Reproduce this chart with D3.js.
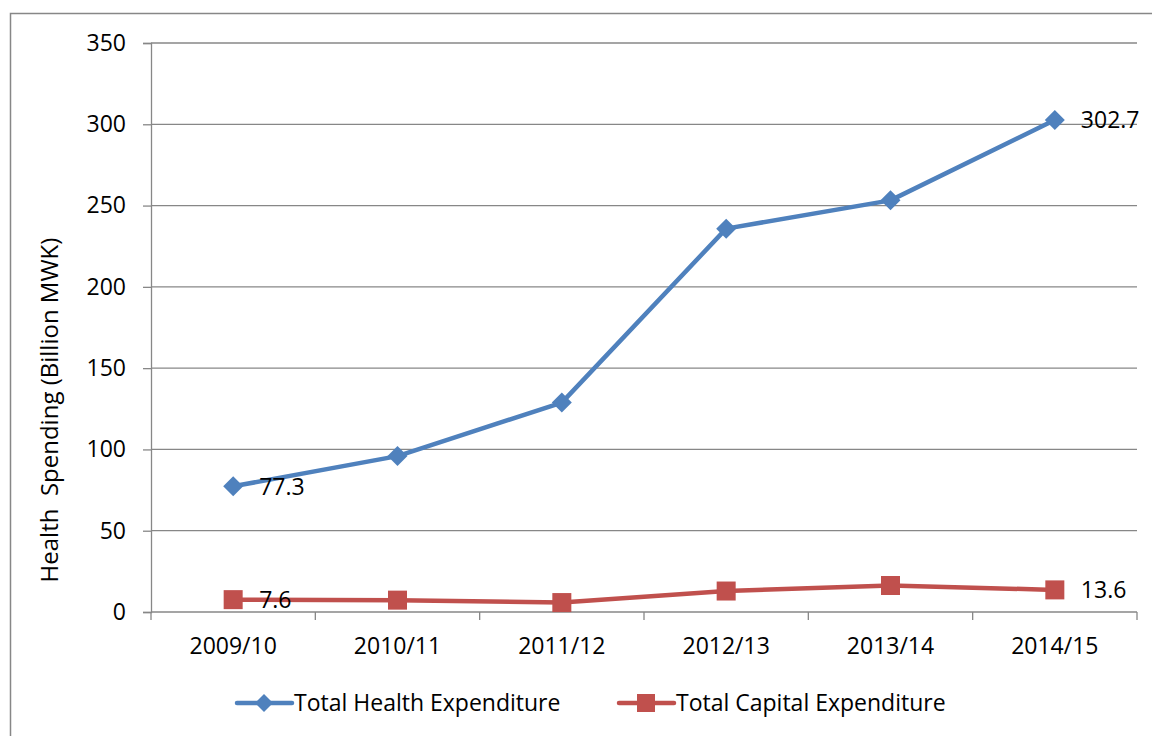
<!DOCTYPE html>
<html lang="en">
<head>
  <meta charset="UTF-8">
  <title>Health Spending</title>
  <style>
    html, body { margin: 0; padding: 0; background: #fff; }
    svg text { font-family: "Open Sans", "Noto Sans", sans-serif; fill: #000; }
  </style>
</head>
<body>
  <div id="chart"></div>
  <script src="https://d3js.org/d3.v7.min.js"></script>
  <script>
    // Data
    const years = ["2009/10", "2010/11", "2011/12", "2012/13", "2013/14", "2014/15"];
    const healthExp = [77.3, 95.9, 128.8, 235.8, 253.2, 302.7];
    const capitalExp = [7.6, 7.3, 5.8, 12.9, 16.3, 13.6];
    const yTicks = [0, 50, 100, 150, 200, 250, 300, 350];
    const seriesNames = ["Total Health Expenditure", "Total Capital Expenditure"];

    const W = 1152, H = 736;
    const margin = {top: 43, right: 15, bottom: 124, left: 151};
    const plotW = 1137 - margin.left, plotH = 612 - margin.top;

    const blue = "#4F81BD", red = "#C0504D", grid = "#878787";
    const fs = 23;

    // diamond marker, half diagonal r
    const diamond = r => `M0,${-r}L${r},0L0,${r}L${-r},0Z`;

    const svg = d3.select("#chart").append("svg")
      .attr("width", W)
      .attr("height", H);

    // outer chart border (runs off the right and bottom)
    svg.append("rect")
      .attr("x", 10.5).attr("y", 13.5)
      .attr("width", 1160).attr("height", 760)
      .attr("fill", "none")
      .attr("stroke", grid)
      .attr("stroke-width", 1.5);

    const g = svg.append("g").attr("transform", `translate(${margin.left},${margin.top})`);

    const x = d3.scaleBand().domain(years).range([0, plotW]);
    const y = d3.scaleLinear().domain([0, 350]).range([plotH, 0]);
    const cx = d => x(d) + x.bandwidth() / 2;

    // gridlines
    g.append("g")
      .selectAll("line")
      .data(yTicks.filter(t => t > 0))
      .enter().append("line")
      .attr("x1", 0).attr("x2", plotW)
      .attr("y1", d => y(d)).attr("y2", d => y(d))
      .attr("stroke", grid).attr("stroke-width", 1.3);

    // y axis
    const yAxis = g.append("g")
      .call(d3.axisLeft(y).tickValues(yTicks).tickSize(8).tickPadding(17));
    yAxis.select(".domain").attr("stroke", grid).attr("stroke-width", 1.3);
    yAxis.selectAll(".tick line").attr("stroke", grid).attr("stroke-width", 1.3);
    yAxis.selectAll(".tick text").attr("font-size", fs).attr("fill", "#000")
      .style("font-family", "'Open Sans', sans-serif");

    // x axis, ticks at band boundaries
    const xAxis = g.append("g").attr("transform", `translate(0,${plotH})`);
    xAxis.append("line")
      .attr("x1", 0).attr("x2", plotW)
      .attr("stroke", grid).attr("stroke-width", 1.3);
    xAxis.selectAll("line.tk")
      .data(years.concat(["end"]))
      .enter().append("line")
      .attr("class", "tk")
      .attr("x1", (d, i) => i * x.bandwidth()).attr("x2", (d, i) => i * x.bandwidth())
      .attr("y1", 0).attr("y2", 8)
      .attr("stroke", grid).attr("stroke-width", 1.3);
    xAxis.selectAll("text")
      .data(years)
      .enter().append("text")
      .attr("x", d => cx(d))
      .attr("y", 42)
      .attr("text-anchor", "middle")
      .attr("font-size", fs)
      .text(d => d);

    // y axis title
    svg.append("text")
      .attr("transform", "translate(58,410) rotate(-90)")
      .attr("text-anchor", "middle")
      .attr("font-size", 24)
      .attr("xml:space", "preserve")
      .text("Health  Spending (Billion MWK)");

    const line = d3.line().x((d, i) => cx(years[i])).y(d => y(d));

    // health series
    g.append("path")
      .datum(healthExp)
      .attr("d", line)
      .attr("fill", "none")
      .attr("stroke", blue)
      .attr("stroke-width", 4.5)
      .attr("stroke-linejoin", "round");
    g.selectAll("path.dia")
      .data(healthExp)
      .enter().append("path")
      .attr("class", "dia")
      .attr("d", diamond(10))
      .attr("transform", (d, i) => `translate(${cx(years[i])},${y(d)})`)
      .attr("fill", blue);

    // capital series
    g.append("path")
      .datum(capitalExp)
      .attr("d", line)
      .attr("fill", "none")
      .attr("stroke", red)
      .attr("stroke-width", 4.5)
      .attr("stroke-linejoin", "round");
    g.selectAll("rect.sq")
      .data(capitalExp)
      .enter().append("rect")
      .attr("class", "sq")
      .attr("x", (d, i) => cx(years[i]) - 9.5)
      .attr("y", d => y(d) - 9.5)
      .attr("width", 19).attr("height", 19)
      .attr("fill", red);

    // data labels on first and last points
    const labelIdx = [0, years.length - 1];
    [healthExp, capitalExp].forEach(series => {
      labelIdx.forEach(i => {
        g.append("text")
          .attr("x", cx(years[i]) + 26)
          .attr("y", y(series[i]))
          .attr("dy", "0.36em")
          .attr("font-size", fs)
          .text(series[i].toFixed(1));
      });
    });

    // legend
    const legend = svg.append("g").attr("transform", "translate(0,703)");
    const legendItems = [
      {name: seriesNames[0], color: blue, x: 237, shape: "diamond"},
      {name: seriesNames[1], color: red, x: 619, shape: "square"}
    ];
    legendItems.forEach(it => {
      legend.append("line")
        .attr("x1", it.x).attr("x2", it.x + 55)
        .attr("stroke", it.color).attr("stroke-width", 4.5)
        .attr("stroke-linecap", "round");
      if (it.shape === "diamond") {
        legend.append("path")
          .attr("d", diamond(9))
          .attr("transform", `translate(${it.x + 27},0)`)
          .attr("fill", it.color);
      } else {
        legend.append("rect")
          .attr("x", it.x + 18).attr("y", -9)
          .attr("width", 18).attr("height", 18)
          .attr("fill", it.color);
      }
      legend.append("text")
        .attr("x", it.x + 57)
        .attr("dy", "0.36em")
        .attr("font-size", fs)
        .text(it.name);
    });
  </script>
</body>
</html>
